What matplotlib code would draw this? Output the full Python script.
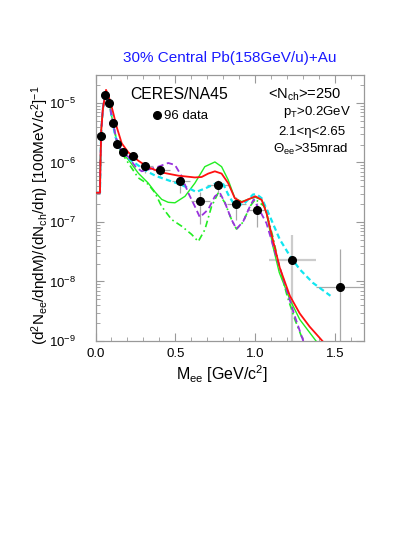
import matplotlib
matplotlib.use("Agg")
import matplotlib.pyplot as plt
import numpy as np
from matplotlib.lines import Line2D
from matplotlib.ticker import MultipleLocator, LogLocator, NullFormatter, FixedLocator

plt.rcParams['font.family'] = ['Liberation Sans', 'DejaVu Sans']
plt.rcParams['mathtext.fontset'] = 'custom'
plt.rcParams['mathtext.rm'] = 'Liberation Sans'
plt.rcParams['mathtext.it'] = 'Liberation Sans:italic'
plt.rcParams['mathtext.bf'] = 'Liberation Sans:bold'

# ---------------- data ----------------
data_x = [0.034, 0.057, 0.084, 0.107, 0.132, 0.170, 0.236, 0.310, 0.405, 0.530, 0.653, 0.766, 0.876, 1.011, 1.232, 1.530]
data_y = [2.8e-6, 1.38e-5, 1.0e-5, 4.6e-6, 2.05e-6, 1.5e-6, 1.3e-6, 8.8e-7, 7.4e-7, 4.8e-7, 2.24e-7, 4.2e-7, 2.04e-7, 1.58e-7, 2.3e-8, 8.1e-9]
data_xlo = [0.034, 0.057, 0.084, 0.107, 0.120, 0.155, 0.205, 0.280, 0.360, 0.480, 0.595, 0.700, 0.820, 0.945, 1.086, 1.380]
data_xhi = [0.034, 0.057, 0.084, 0.107, 0.145, 0.185, 0.265, 0.360, 0.466, 0.590, 0.716, 0.834, 0.940, 1.080, 1.380, 1.750]
data_ylo = [2.6e-6, 1.3e-5, 9.3e-6, 4.2e-6, 1.85e-6, 1.35e-6, 1.15e-6, 6.6e-7, 5.9e-7, 3.1e-7, 9.3e-8, 3.1e-7, 1.07e-7, 8.3e-8, 1e-10, 1e-10]
data_yhi = [3.0e-6, 1.46e-5, 1.08e-5, 5.0e-6, 2.25e-6, 1.65e-6, 1.45e-6, 1.0e-6, 8.5e-7, 6.2e-7, 3.2e-7, 5.1e-7, 2.6e-7, 2.1e-7, 6.1e-8, 3.5e-8]

red_x = [0.008, 0.028, 0.031, 0.036, 0.046, 0.066, 0.09, 0.111, 0.132, 0.164, 0.205, 0.268, 0.33, 0.414, 0.518, 0.622, 0.664, 0.705, 0.747, 0.789, 0.83, 0.872, 0.914, 0.955, 1.0, 1.04, 1.07, 1.11, 1.153, 1.216, 1.278, 1.34, 1.42]
red_y = [3.1e-7, 3.1e-7, 1.0e-6, 3.5e-6, 7.9e-6, 1.66e-5, 1.12e-5, 6.8e-6, 4.0e-6, 2.1e-6, 1.48e-6, 1.07e-6, 8.3e-7, 6.8e-7, 6.0e-7, 5.6e-7, 5.7e-7, 6.5e-7, 7.1e-7, 6.5e-7, 4.5e-7, 2.5e-7, 2.14e-7, 2.4e-7, 2.7e-7, 2.35e-7, 1.41e-7, 5.0e-8, 1.7e-8, 5.75e-9, 2.9e-9, 1.74e-9, 1.0e-9]

green_x = [0.008, 0.028, 0.031, 0.036, 0.046, 0.062, 0.09, 0.11, 0.13, 0.153, 0.205, 0.268, 0.33, 0.372, 0.414, 0.455, 0.497, 0.56, 0.622, 0.684, 0.747, 0.789, 0.83, 0.872, 0.914, 0.976, 1.0, 1.04, 1.07, 1.11, 1.15, 1.216, 1.278, 1.38]
green_y = [3.1e-7, 3.1e-7, 1.0e-6, 3.5e-6, 7.9e-6, 1.45e-5, 8.7e-6, 4.5e-6, 2.5e-6, 1.62e-6, 1.12e-6, 6.6e-7, 4.5e-7, 3.2e-7, 2.4e-7, 2.14e-7, 2.1e-7, 2.7e-7, 4.5e-7, 8.5e-7, 1.02e-6, 8.5e-7, 5.1e-7, 2.5e-7, 2.2e-7, 2.5e-7, 2.6e-7, 2.35e-7, 1.41e-7, 3.9e-8, 1.41e-8, 5.0e-9, 2.3e-9, 1.0e-9]

dd_x = [0.008, 0.028, 0.031, 0.036, 0.046, 0.06, 0.09, 0.11, 0.13, 0.164, 0.205, 0.268, 0.33, 0.372, 0.414, 0.476, 0.539, 0.601, 0.643, 0.684, 0.726, 0.768, 0.81, 0.851, 0.882, 0.924, 0.966, 1.0, 1.06, 1.11, 1.15, 1.2, 1.25, 1.30]
dd_y = [3.1e-7, 3.1e-7, 1.0e-6, 3.5e-6, 7.9e-6, 1.45e-5, 8.7e-6, 4.5e-6, 2.5e-6, 1.45e-6, 9.8e-7, 5.5e-7, 4.3e-7, 3.1e-7, 1.82e-7, 1.1e-7, 8.5e-8, 6.2e-8, 4.7e-8, 7.4e-8, 1.82e-7, 3.1e-7, 2.1e-7, 1.1e-7, 7.6e-8, 1.0e-7, 1.82e-7, 2.4e-7, 1.8e-7, 5.6e-8, 1.8e-8, 5.6e-9, 2.2e-9, 1.0e-9]

purple_x = [0.008, 0.028, 0.031, 0.036, 0.046, 0.06, 0.09, 0.11, 0.13, 0.164, 0.205, 0.25, 0.289, 0.33, 0.393, 0.455, 0.497, 0.539, 0.58, 0.622, 0.653, 0.705, 0.747, 0.778, 0.81, 0.851, 0.882, 0.924, 0.966, 0.99, 1.07, 1.13, 1.195, 1.247, 1.30]
purple_y = [3.1e-7, 3.1e-7, 1.0e-6, 3.5e-6, 7.9e-6, 1.45e-5, 8.7e-6, 4.5e-6, 2.5e-6, 1.5e-6, 1.25e-6, 8.5e-7, 7.1e-7, 7.6e-7, 8.5e-7, 9.8e-7, 9.1e-7, 5.9e-7, 3.1e-7, 1.82e-7, 1.2e-7, 1.62e-7, 2.7e-7, 3.1e-7, 2.1e-7, 1.1e-7, 7.6e-8, 1.02e-7, 1.82e-7, 2.4e-7, 9.5e-8, 2.7e-8, 7.4e-9, 2.6e-9, 1.0e-9]

cyan_x = [0.008, 0.028, 0.031, 0.036, 0.046, 0.06, 0.09, 0.11, 0.122, 0.164, 0.205, 0.268, 0.33, 0.38, 0.476, 0.53, 0.601, 0.63, 0.69, 0.757, 0.80, 0.83, 0.861, 0.924, 0.986, 1.01, 1.04, 1.09, 1.153, 1.216, 1.278, 1.36, 1.47]
cyan_y = [3.1e-7, 3.1e-7, 1.0e-6, 3.5e-6, 7.9e-6, 1.45e-5, 8.7e-6, 4.5e-6, 2.8e-6, 1.5e-6, 1.17e-6, 8.9e-7, 6.9e-7, 5.9e-7, 4.8e-7, 4.3e-7, 3.5e-7, 3.2e-7, 3.7e-7, 4.5e-7, 4.3e-7, 2.9e-7, 2.1e-7, 1.95e-7, 2.9e-7, 2.9e-7, 2.5e-7, 1.26e-7, 5.1e-8, 2.7e-8, 1.6e-8, 9.5e-9, 5.75e-9]

x_ticks = [0.0, 0.5, 1.0, 1.5]
x_ticklabels = ['0.0', '0.5', '1.0', '1.5']
y_ticks = [1e-9, 1e-8, 1e-7, 1e-6, 1e-5]
y_ticklabels = [r'$\mathregular{10^{-9}}$', r'$\mathregular{10^{-8}}$', r'$\mathregular{10^{-7}}$',
                r'$\mathregular{10^{-6}}$', r'$\mathregular{10^{-5}}$']

# ---------------- figure ----------------
W, H = 415, 537
fig = plt.figure(figsize=(W / 100, H / 100), dpi=100)
L, R, T, B = 95.5, 364, 75, 341
ax = fig.add_axes([L / W, 1 - B / H, (R - L) / W, (B - T) / H])
ax.set_yscale('log')
ax.set_xlim(0, 1.68)
ax.set_ylim(1e-9, 2.95e-5)

# error bars
gray = '#a8a8a8'
dx = np.array(data_x); dy = np.array(data_y)
xerr = [dx - np.array(data_xlo), np.array(data_xhi) - dx]
yerr = [dy - np.array(data_ylo), np.array(data_yhi) - dy]
ax.errorbar(dx[:14], dy[:14], xerr=[xerr[0][:14], xerr[1][:14]], yerr=[yerr[0][:14], yerr[1][:14]],
            fmt='none', ecolor=gray, elinewidth=0.9, capsize=0, zorder=2)
ax.errorbar(dx[14:15], dy[14:15], xerr=[xerr[0][14:15], xerr[1][14:15]], yerr=[yerr[0][14:15], yerr[1][14:15]],
            fmt='none', ecolor='#cccccc', elinewidth=1.6, capsize=0, zorder=2)
ax.errorbar(dx[15:], dy[15:], xerr=[xerr[0][15:], xerr[1][15:]], yerr=[yerr[0][15:], yerr[1][15:]],
            fmt='none', ecolor=gray, elinewidth=0.9, capsize=0, zorder=2)

# curves
ax.plot(green_x, green_y, color='#22ee22', lw=1.0, zorder=3)
ax.plot(dd_x, dd_y, color='#22ee22', lw=1.2, ls=(0, (4, 2, 1, 2)), zorder=3)
ax.plot(cyan_x, cyan_y, color='#11e6f0', lw=1.6, ls=(0, (2.4, 1.5)), zorder=3)
ax.plot(purple_x, purple_y, color='#9932dd', lw=1.3, ls=(0, (3.5, 2.0)), zorder=4)
ax.plot(red_x, red_y, color='#ff1010', lw=1.3, zorder=4)

# data points
ax.plot(dx, dy, 'o', color='black', ms=5.5, zorder=6)

# axes styling
for s in ax.spines.values():
    s.set_color('#999999')
    s.set_linewidth(0.9)
ax.set_xticks(x_ticks)
ax.set_xticklabels(x_ticklabels)
ax.xaxis.set_minor_locator(MultipleLocator(0.1))
ax.yaxis.set_major_locator(FixedLocator(y_ticks))
ax.set_yticklabels(y_ticklabels)
ax.yaxis.set_minor_locator(LogLocator(base=10, subs=np.arange(2, 10)))
ax.yaxis.set_minor_formatter(NullFormatter())
ax.tick_params(which='both', direction='in', top=True, right=True, color='#999999')
ax.tick_params(which='major', length=6, width=0.8)
ax.tick_params(which='minor', length=3, width=0.6)
ax.tick_params(axis='x', which='major', pad=5, labelsize=9.5)
ax.tick_params(axis='y', which='major', pad=14, labelsize=9.5)

# labels
fig.text(222 / W, 1 - 374 / H, r'M$_\mathregular{ee}$ [GeV/c$^\mathregular{2}$]', ha='center', va='center', fontsize=11.5)
fig.text(40 / W, 1 - 215 / H,
         r'$\mathregular{(d^2N_{ee}/d\eta dM)/(dN_{ch}/d\eta)\ [100MeV/c^2]^{-1}}$',
         rotation=90, ha='center', va='center', fontsize=11)
fig.text(229.5 / W, 1 - 58 / H, '30% Central Pb(158GeV/u)+Au', color='#1a1aff',
         ha='center', va='center', fontsize=11)

fig.text(130 / W, 1 - 99 / H, 'CERES/NA45', ha='left', va='baseline', fontsize=11.3)
fig.add_artist(Line2D([157 / W], [1 - 115 / H], marker='o', ms=5.5, color='black',
                      transform=fig.transFigure))
fig.text(164 / W, 1 - 119.3 / H, '96 data', ha='left', va='baseline', fontsize=9.5)
fig.text(268 / W, 1 - 99 / H, r'<N$_\mathregular{ch}$>=250', ha='left', va='baseline', fontsize=10.5)
fig.text(351 / W, 1 - 115.5 / H, r'p$_\mathregular{T}$>0.2GeV', ha='right', va='baseline', fontsize=9.5)
fig.text(345 / W, 1 - 135 / H, '2.1<\u03b7<2.65', ha='right', va='baseline', fontsize=9.5)
fig.text(348 / W, 1 - 153.3 / H, r'$\Theta_\mathregular{ee}$>35mrad', ha='right', va='baseline', fontsize=9.5)

fig.savefig('out.png', dpi=100)
